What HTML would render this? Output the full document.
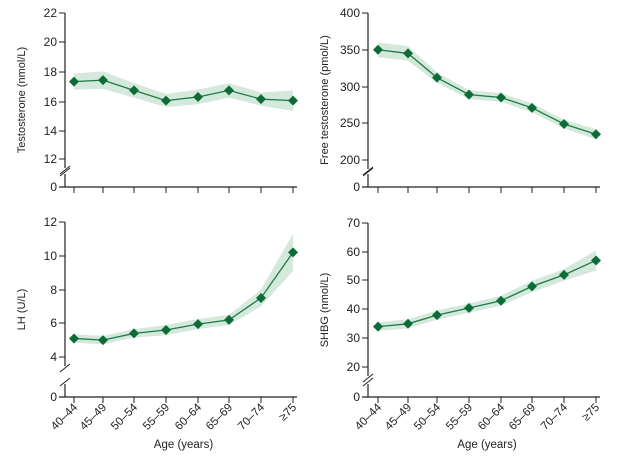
<!DOCTYPE html>
<html><head><meta charset="utf-8"><style>body{margin:0;background:#fff}svg{display:block}text{font-family:"Liberation Sans",sans-serif;fill:#222}</style></head>
<body><svg id="s" width="624" height="464" xmlns="http://www.w3.org/2000/svg"></svg>
<script>
const s=document.getElementById('s');let h='';
const labs=['40–44','45–49','50–54','55–59','60–64','65–69','70–74','≥75'];
function panel(ax,xs,zeroY,ticks,vals,band,ylabel,lx,xlab){
 const [v0,y0]=ticks[0],[v1,y1]=ticks[ticks.length-1];
 const Y=v=>y0+(v-v0)*(y1-y0)/(v1-v0);
 let up=vals.map((v,i)=>xs[i]+','+Y(v+band[i])).join(' ');
 let dn=vals.map((v,i)=>xs[i]+','+Y(v-band[i])).reverse().join(' ');
 h+=`<polygon points="${up} ${dn}" fill="#d5e8dc"/>`;
 h+=`<polyline points="${vals.map((v,i)=>xs[i]+','+Y(v)).join(' ')}" fill="none" stroke="#1e7a45" stroke-width="1.3"/>`;
 vals.forEach((v,i)=>{const x=xs[i],y=Y(v);h+=`<polygon points="${x},${y-5} ${x+5},${y} ${x},${y+5} ${x-5},${y}" fill="#0d6b37"/>`});
 const top=y1;
 h+=`<line x1="${ax}" y1="${top}" x2="${ax}" y2="${y0+9}" stroke="#222" stroke-width="1.2"/>`;
 h+=`<line x1="${ax}" y1="${zeroY-13}" x2="${ax}" y2="${zeroY}" stroke="#222" stroke-width="1.2"/>`;
 h+=`<line x1="${ax-5}" y1="${y0+15}" x2="${ax+5}" y2="${y0+7}" stroke="#222"/><line x1="${ax-5}" y1="${zeroY-11}" x2="${ax+5}" y2="${zeroY-19}" stroke="#222"/>`;
 h+=`<line x1="${ax-6}" y1="${zeroY}" x2="${xs[7]+4}" y2="${zeroY}" stroke="#222" stroke-width="1.2"/>`;
 h+=`<text x="${ax-8}" y="${zeroY+4}" font-size="12" text-anchor="end">0</text>`;
 ticks.forEach(([v,y])=>{h+=`<line x1="${ax-6}" y1="${y}" x2="${ax}" y2="${y}" stroke="#222"/><text x="${ax-8}" y="${y+4}" font-size="12" text-anchor="end">${v}</text>`});
 xs.forEach((x,i)=>{h+=`<line x1="${x}" y1="${zeroY}" x2="${x}" y2="${zeroY+6}" stroke="#222"/>`;
  if(xlab)h+=`<text transform="translate(${x+4},${zeroY+11}) rotate(-45)" font-size="11.5" text-anchor="end">${labs[i]}</text>`});
 const cy=(top+zeroY)/2;
 h+=`<text transform="translate(${lx},${cy}) rotate(-90)" font-size="11" text-anchor="middle">${ylabel}</text>`;
 if(xlab)h+=`<text x="${(xs[0]+xs[7])/2}" y="448" font-size="11.5" text-anchor="middle">Age (years)</text>`;
}
const xl=[74,103,134,166,198,229,261,293],xr=[378,408,437,469,501,532,564,596];
panel(65,xl,187,[[12,159],[14,131],[16,102],[18,72],[20,42],[22,13]],[17.3,17.4,16.7,16,16.25,16.7,16.1,16],[0.55,0.6,0.5,0.45,0.5,0.5,0.45,0.7],'Testosterone (nmol/L)',25,false);
panel(368,xr,187,[[200,160],[250,123],[300,87],[350,50],[400,13]],[350,345,312,289,285,271,249,235],[10,10,7,6,6,6,6,7],'Free testosterone (pmol/L)',328,false);
panel(65,xl,397,[[4,357],[6,323],[8,290],[10,256],[12,222]],[5.1,5.0,5.4,5.6,5.95,6.2,7.5,10.2],[0.25,0.25,0.25,0.3,0.3,0.3,0.5,1.1],'LH (U/L)',25,true);
panel(368,xr,397,[[20,367],[30,338],[40,309],[50,280],[60,252],[70,223]],[34,35,38,40.5,43,48,52,57],[1.5,1.6,1.6,1.6,1.7,2,2,3.5],'SHBG (nmol/L)',328,true);
s.innerHTML=h;
</script></body></html>
